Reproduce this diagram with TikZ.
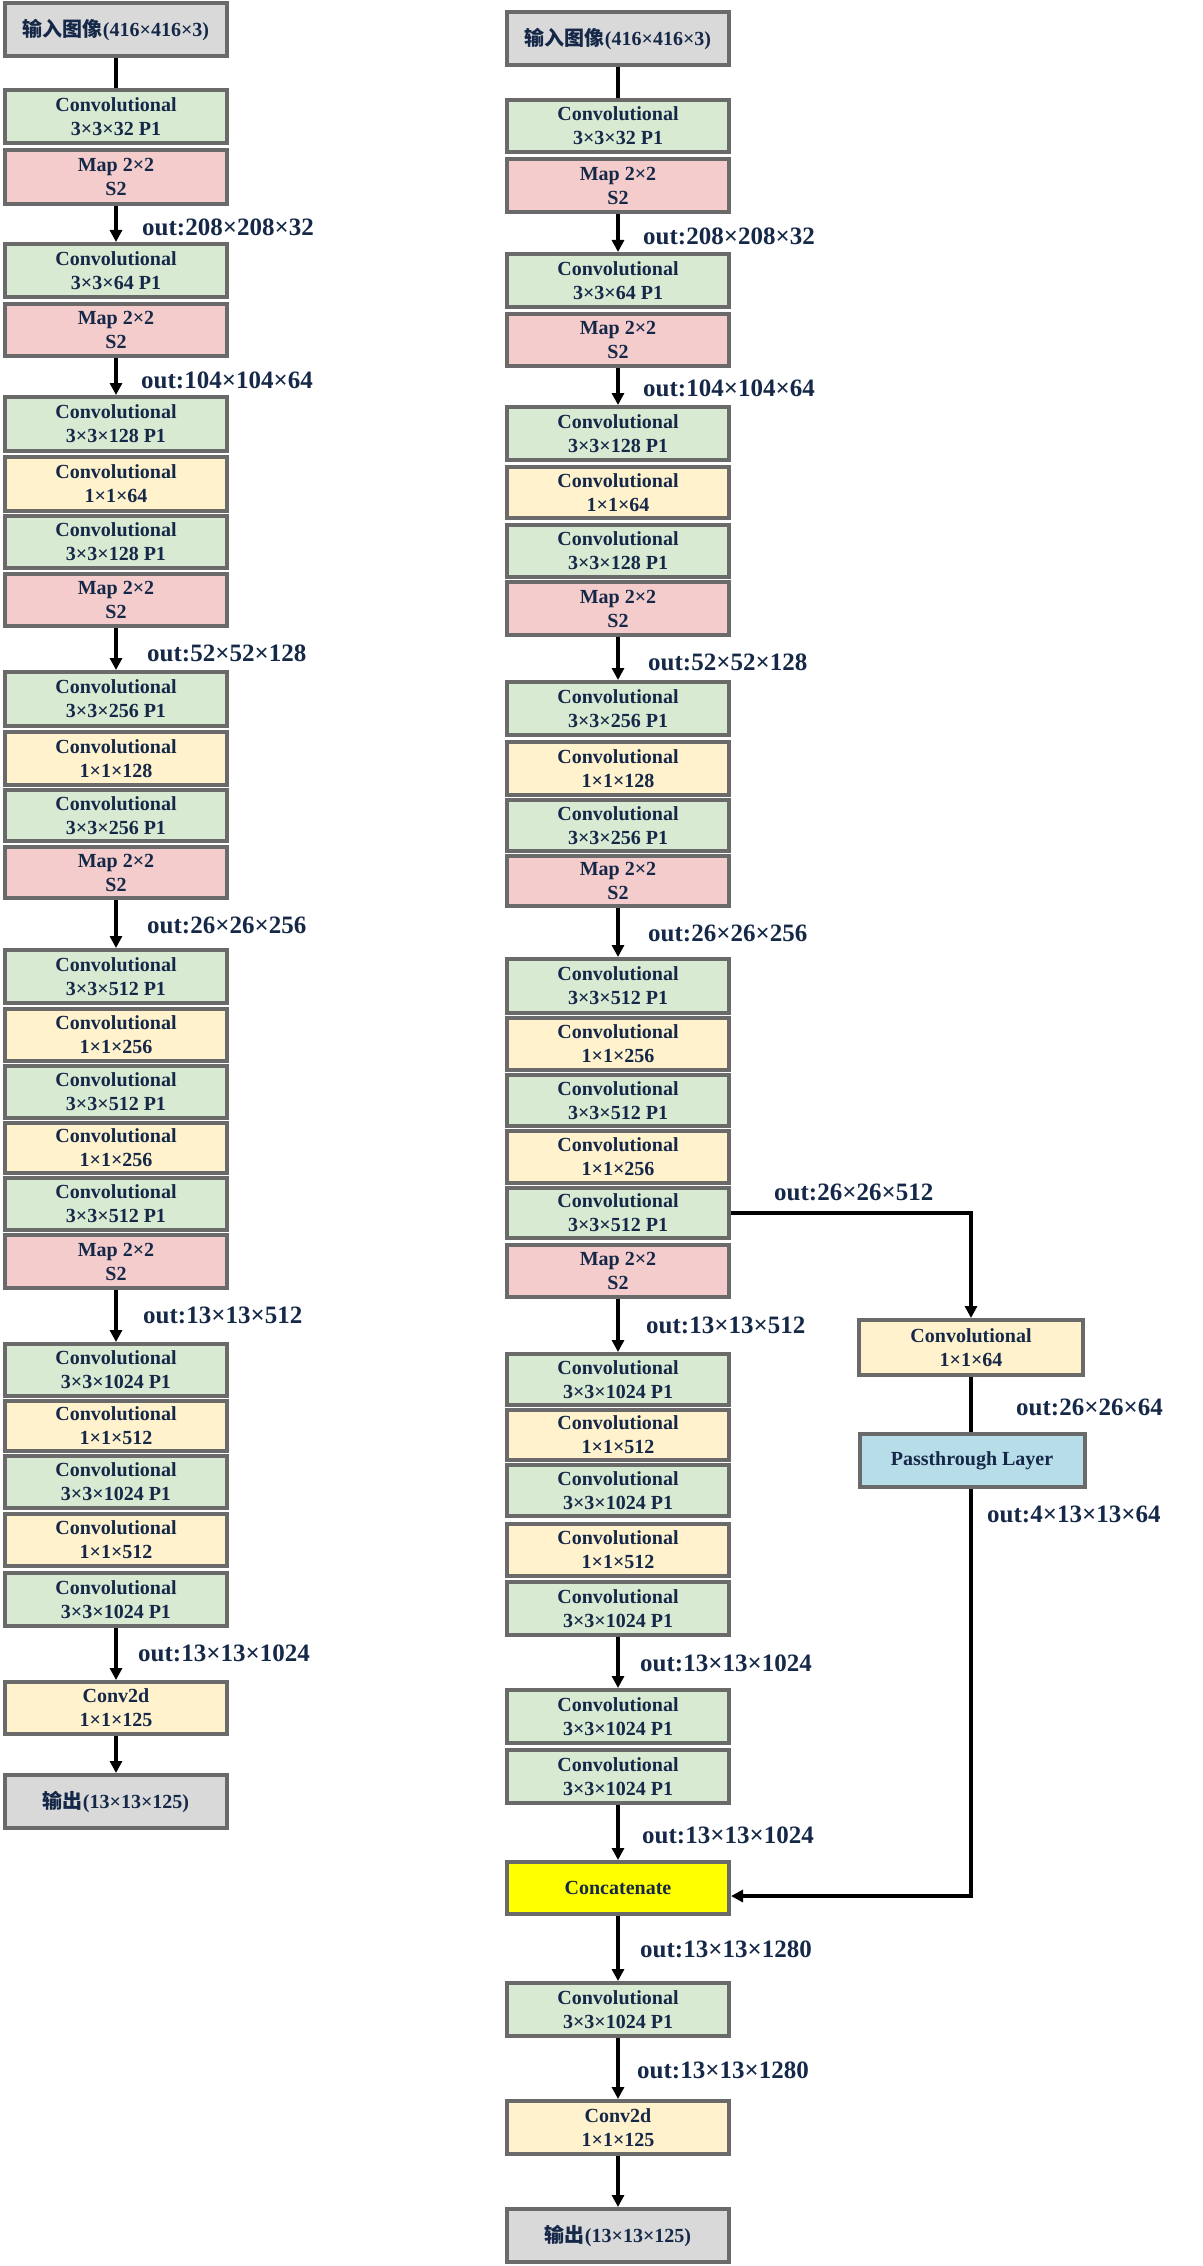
\documentclass[tikz,border=0pt]{standalone}
\usepackage{fontspec}
\setmainfont{Liberation Serif}
\newfontfamily\cjk{Noto Sans CJK SC}
\usetikzlibrary{arrows.meta}
\definecolor{greenc}{HTML}{D9EAD3}
\definecolor{yellowc}{HTML}{FFF2CC}
\definecolor{pinkc}{HTML}{F4CCCC}
\definecolor{grayc}{HTML}{D9D9D9}
\definecolor{bluec}{HTML}{B7DDE8}
\definecolor{concatc}{HTML}{FFFF00}
\definecolor{bordc}{HTML}{6A6A6A}
\definecolor{textc}{HTML}{152848}
\tikzset{
  blkbase/.style={draw=bordc, line width=4pt, inner sep=0pt, align=center, text=textc,
    font=\fontsize{20}{24}\selectfont\bfseries, minimum width=222pt},
  convg/.style={blkbase, fill=greenc},
  convy/.style={blkbase, fill=yellowc},
  mapp/.style={blkbase, fill=pinkc},
  iobox/.style={blkbase, fill=grayc},
  passb/.style={blkbase, fill=bluec, minimum width=225pt},
  sidey/.style={blkbase, fill=yellowc, minimum width=224pt},
  catb/.style={blkbase, fill=concatc},
  lbl/.style={anchor=west, inner sep=0pt, text=textc, font=\fontsize{25}{30}\selectfont\bfseries},
  arr/.style={line width=4pt, -{Triangle[width=12pt,length=12pt]}},
  lnk/.style={line width=4pt},
}
\newcommand\blk[6]{\node[#2, minimum height={#5-#4-4}] (#1) at (#3,{(#4+#5)/2}) {#6};}
\begin{document}
\begin{tikzpicture}[x=1pt,y=-1pt]
\useasboundingbox (0,0) rectangle (1202,2266);
% ---------------- left column ----------------
\def\lx{116}
\blk{L0}{iobox}{\lx}{1}{58}{{\cjk 输入图像}(416×416×3)}
\blk{L1}{convg}{\lx}{88}{145}{Convolutional\\3×3×32 P1}
\blk{L2}{mapp}{\lx}{148}{206}{Map 2×2\\S2}
\blk{L3}{convg}{\lx}{242}{299}{Convolutional\\3×3×64 P1}
\blk{L4}{mapp}{\lx}{302}{358}{Map 2×2\\S2}
\blk{L5}{convg}{\lx}{395}{453}{Convolutional\\3×3×128 P1}
\blk{L6}{convy}{\lx}{455}{513}{Convolutional\\1×1×64}
\blk{L7}{convg}{\lx}{514}{570}{Convolutional\\3×3×128 P1}
\blk{L8}{mapp}{\lx}{572}{628}{Map 2×2\\S2}
\blk{L9}{convg}{\lx}{670}{728}{Convolutional\\3×3×256 P1}
\blk{L10}{convy}{\lx}{730}{787}{Convolutional\\1×1×128}
\blk{L11}{convg}{\lx}{788}{843}{Convolutional\\3×3×256 P1}
\blk{L12}{mapp}{\lx}{845}{900}{Map 2×2\\S2}
\blk{L13}{convg}{\lx}{948}{1005}{Convolutional\\3×3×512 P1}
\blk{L14}{convy}{\lx}{1007}{1063}{Convolutional\\1×1×256}
\blk{L15}{convg}{\lx}{1064}{1120}{Convolutional\\3×3×512 P1}
\blk{L16}{convy}{\lx}{1121}{1175}{Convolutional\\1×1×256}
\blk{L17}{convg}{\lx}{1176}{1232}{Convolutional\\3×3×512 P1}
\blk{L18}{mapp}{\lx}{1233}{1290}{Map 2×2\\S2}
\blk{L19}{convg}{\lx}{1342}{1398}{Convolutional\\3×3×1024 P1}
\blk{L20}{convy}{\lx}{1399}{1453}{Convolutional\\1×1×512}
\blk{L21}{convg}{\lx}{1454}{1510}{Convolutional\\3×3×1024 P1}
\blk{L22}{convy}{\lx}{1512}{1568}{Convolutional\\1×1×512}
\blk{L23}{convg}{\lx}{1571}{1628}{Convolutional\\3×3×1024 P1}
\blk{L24}{convy}{\lx}{1680}{1736}{Conv2d\\1×1×125}
\blk{L25}{iobox}{\lx}{1773}{1830}{{\cjk 输出}(13×13×125)}
\draw[lnk] (L0) -- (L1);
\draw[arr] (L2) -- (L3);
\draw[arr] (L4) -- (L5);
\draw[arr] (L8) -- (L9);
\draw[arr] (L12) -- (L13);
\draw[arr] (L18) -- (L19);
\draw[arr] (L23) -- (L24);
\draw[arr] (L24) -- (L25);
\node[lbl] (la1) at (142,227) {out:208×208×32};
\node[lbl] (la2) at (141,380) {out:104×104×64};
\node[lbl] (la3) at (147,653) {out:52×52×128};
\node[lbl] (la4) at (147,925) {out:26×26×256};
\node[lbl] (la5) at (143,1315) {out:13×13×512};
\node[lbl] (la6) at (138,1653) {out:13×13×1024};
% ---------------- right column ----------------
\def\rx{618}
\blk{R0}{iobox}{\rx}{10}{67}{{\cjk 输入图像}(416×416×3)}
\blk{R1}{convg}{\rx}{98}{154}{Convolutional\\3×3×32 P1}
\blk{R2}{mapp}{\rx}{157}{214}{Map 2×2\\S2}
\blk{R3}{convg}{\rx}{252}{309}{Convolutional\\3×3×64 P1}
\blk{R4}{mapp}{\rx}{312}{368}{Map 2×2\\S2}
\blk{R5}{convg}{\rx}{405}{462}{Convolutional\\3×3×128 P1}
\blk{R6}{convy}{\rx}{465}{520}{Convolutional\\1×1×64}
\blk{R7}{convg}{\rx}{523}{579}{Convolutional\\3×3×128 P1}
\blk{R8}{mapp}{\rx}{580}{637}{Map 2×2\\S2}
\blk{R9}{convg}{\rx}{680}{737}{Convolutional\\3×3×256 P1}
\blk{R10}{convy}{\rx}{740}{797}{Convolutional\\1×1×128}
\blk{R11}{convg}{\rx}{798}{853}{Convolutional\\3×3×256 P1}
\blk{R12}{mapp}{\rx}{854}{908}{Map 2×2\\S2}
\blk{R13}{convg}{\rx}{957}{1015}{Convolutional\\3×3×512 P1}
\blk{R14}{convy}{\rx}{1016}{1072}{Convolutional\\1×1×256}
\blk{R15}{convg}{\rx}{1073}{1128}{Convolutional\\3×3×512 P1}
\blk{R16}{convy}{\rx}{1129}{1185}{Convolutional\\1×1×256}
\blk{R17}{convg}{\rx}{1186}{1240}{Convolutional\\3×3×512 P1}
\blk{R18}{mapp}{\rx}{1243}{1299}{Map 2×2\\S2}
\blk{R19}{convg}{\rx}{1352}{1407}{Convolutional\\3×3×1024 P1}
\blk{R20}{convy}{\rx}{1408}{1462}{Convolutional\\1×1×512}
\blk{R21}{convg}{\rx}{1463}{1518}{Convolutional\\3×3×1024 P1}
\blk{R22}{convy}{\rx}{1522}{1578}{Convolutional\\1×1×512}
\blk{R23}{convg}{\rx}{1580}{1637}{Convolutional\\3×3×1024 P1}
\blk{R24}{convg}{\rx}{1688}{1745}{Convolutional\\3×3×1024 P1}
\blk{R25}{convg}{\rx}{1748}{1805}{Convolutional\\3×3×1024 P1}
\blk{R26}{catb}{\rx}{1860}{1916}{Concatenate}
\blk{R27}{convg}{\rx}{1981}{2038}{Convolutional\\3×3×1024 P1}
\blk{R28}{convy}{\rx}{2099}{2156}{Conv2d\\1×1×125}
\blk{R29}{iobox}{\rx}{2207}{2264}{{\cjk 输出}(13×13×125)}
% side branch
\blk{S1}{sidey}{971}{1318}{1377}{Convolutional\\1×1×64}
\blk{S2}{passb}{972}{1432}{1489}{Passthrough Layer}
\draw[lnk] (R0) -- (R1);
\draw[arr] (R2) -- (R3);
\draw[arr] (R4) -- (R5);
\draw[arr] (R8) -- (R9);
\draw[arr] (R12) -- (R13);
\draw[arr] (R18) -- (R19);
\draw[arr] (R23) -- (R24);
\draw[arr] (R25) -- (R26);
\draw[arr] (R26) -- (R27);
\draw[arr] (R27) -- (R28);
\draw[arr] (R28) -- (R29);
\draw[arr] (R17.east) -| (S1.north);
\draw[lnk] (S1.south) -- (S1.south |- S2.north);
\draw[arr] (S1.south |- S2.south) |- ([yshift=-8pt]R26.east);
\node[lbl] (ra1) at (643,236) {out:208×208×32};
\node[lbl] (ra2) at (643,388) {out:104×104×64};
\node[lbl] (ra3) at (648,662) {out:52×52×128};
\node[lbl] (ra4) at (648,933) {out:26×26×256};
\node[lbl] (ra5) at (646,1325) {out:13×13×512};
\node[lbl] (ra6) at (640,1663) {out:13×13×1024};
\node[lbl] (ra7) at (642,1835) {out:13×13×1024};
\node[lbl] (ra8) at (640,1949) {out:13×13×1280};
\node[lbl] (ra9) at (637,2070) {out:13×13×1280};
\node[lbl] (rb1) at (774,1192) {out:26×26×512};
\node[lbl] (rb2) at (1016,1407) {out:26×26×64};
\node[lbl] (rb3) at (987,1514) {out:4×13×13×64};
\end{tikzpicture}
\end{document}
